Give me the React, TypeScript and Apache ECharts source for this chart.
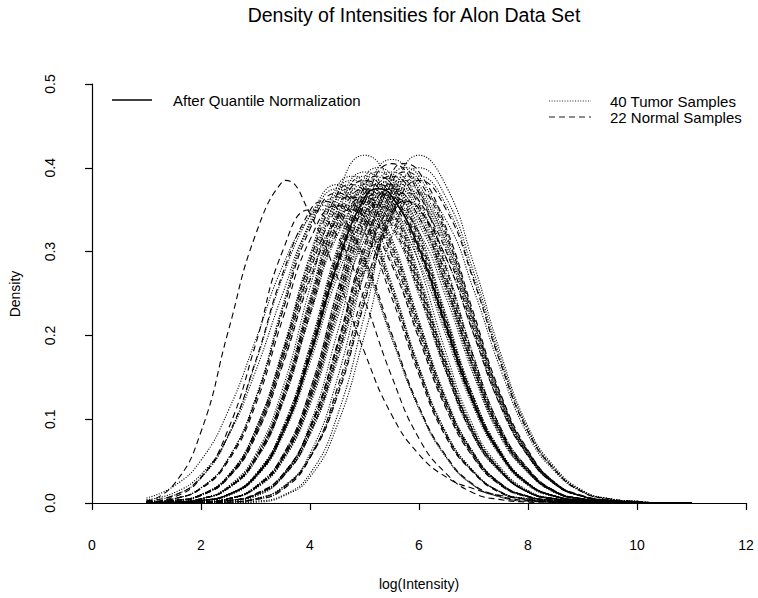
import React, { useEffect, useRef } from "react";
import * as echarts from "echarts";

// x positions (log intensity) at which the densities were read
const xGrid = [1, 1.5, 2, 2.5, 3, 3.5, 4, 4.5, 5, 5.5, 6, 6.5, 7, 7.5, 8, 8.5, 9, 9.5, 10, 10.5, 11];

// 40 tumor samples (dotted)
const tumor01 = [0, 0, 0, 0, 0.002, 0.009, 0.035, 0.104, 0.224, 0.357, 0.415, 0.378, 0.286, 0.178, 0.091, 0.042, 0.015, 0.005, 0.002, 0, 0];
const tumor02 = [0, 0.001, 0.005, 0.02, 0.058, 0.137, 0.257, 0.367, 0.415, 0.378, 0.286, 0.178, 0.091, 0.042, 0.015, 0.005, 0.002, 0, 0, 0];
const tumor03 = [0, 0, 0.001, 0.005, 0.02, 0.057, 0.135, 0.254, 0.363, 0.41, 0.373, 0.283, 0.176, 0.09, 0.041, 0.014, 0.005, 0.002, 0, 0, 0];
const tumor04 = [0, 0, 0.001, 0.003, 0.01, 0.034, 0.09, 0.188, 0.304, 0.388, 0.39, 0.324, 0.224, 0.128, 0.062, 0.024, 0.008, 0.003, 0.001, 0, 0];
const tumor05 = [0, 0.001, 0.003, 0.01, 0.034, 0.09, 0.188, 0.304, 0.388, 0.39, 0.324, 0.224, 0.128, 0.062, 0.024, 0.008, 0.003, 0.001, 0, 0];
const tumor06 = [0, 0.001, 0.005, 0.019, 0.055, 0.129, 0.242, 0.345, 0.39, 0.355, 0.269, 0.168, 0.086, 0.039, 0.014, 0.005, 0.002, 0, 0, 0];
const tumor07 = [0.001, 0.003, 0.01, 0.033, 0.087, 0.181, 0.293, 0.373, 0.375, 0.312, 0.216, 0.123, 0.06, 0.023, 0.008, 0.003, 0.001, 0, 0, 0];
const tumor08 = [0.004, 0.012, 0.034, 0.08, 0.157, 0.25, 0.332, 0.365, 0.332, 0.252, 0.157, 0.08, 0.037, 0.013, 0.004, 0.001, 0, 0, 0, 0];
const tumor09 = [0.006, 0.02, 0.051, 0.11, 0.194, 0.283, 0.342, 0.341, 0.284, 0.196, 0.112, 0.054, 0.021, 0.007, 0.002, 0.001, 0, 0, 0, 0];
const tumor10 = [0, 0, 0.001, 0.005, 0.018, 0.054, 0.127, 0.239, 0.341, 0.385, 0.35, 0.266, 0.166, 0.085, 0.039, 0.013, 0.005, 0.002, 0, 0, 0];
const tumor11 = [0, 0, 0, 0.001, 0.005, 0.019, 0.055, 0.129, 0.242, 0.345, 0.39, 0.355, 0.269, 0.168, 0.086, 0.039, 0.014, 0.005, 0.002, 0, 0];
const tumor12 = [0, 0, 0.001, 0.003, 0.01, 0.032, 0.084, 0.176, 0.285, 0.364, 0.366, 0.304, 0.21, 0.12, 0.058, 0.023, 0.008, 0.003, 0.001, 0, 0];
const tumor13 = [0, 0.001, 0.003, 0.01, 0.033, 0.087, 0.181, 0.293, 0.373, 0.375, 0.312, 0.216, 0.123, 0.06, 0.023, 0.008, 0.003, 0.001, 0, 0];
const tumor14 = [0, 0.001, 0.005, 0.018, 0.052, 0.122, 0.229, 0.327, 0.37, 0.337, 0.255, 0.159, 0.081, 0.037, 0.013, 0.004, 0.001, 0, 0, 0];
const tumor15 = [0.001, 0.003, 0.01, 0.031, 0.083, 0.174, 0.281, 0.359, 0.361, 0.3, 0.207, 0.118, 0.057, 0.022, 0.008, 0.003, 0.001, 0, 0, 0];
const tumor16 = [0, 0, 0.001, 0.005, 0.019, 0.055, 0.13, 0.245, 0.35, 0.395, 0.359, 0.273, 0.17, 0.087, 0.04, 0.014, 0.005, 0.002, 0, 0, 0];
const tumor17 = [0, 0, 0, 0.001, 0.004, 0.017, 0.059, 0.148, 0.277, 0.375, 0.38, 0.316, 0.218, 0.125, 0.06, 0.023, 0.008, 0.003, 0.001, 0, 0];
const tumor18 = [0.001, 0.005, 0.018, 0.053, 0.124, 0.233, 0.332, 0.375, 0.341, 0.259, 0.161, 0.083, 0.038, 0.013, 0.005, 0.002, 0, 0, 0, 0];
const tumor19 = [0, 0.001, 0.003, 0.009, 0.031, 0.082, 0.172, 0.277, 0.354, 0.356, 0.296, 0.204, 0.117, 0.057, 0.022, 0.008, 0.003, 0.001, 0, 0];
const tumor20 = [0, 0, 0, 0, 0.001, 0.008, 0.031, 0.093, 0.2, 0.318, 0.37, 0.337, 0.255, 0.159, 0.081, 0.037, 0.013, 0.004, 0.001, 0, 0];
const tumor21 = [0.001, 0.002, 0.009, 0.03, 0.08, 0.167, 0.27, 0.344, 0.346, 0.288, 0.199, 0.114, 0.055, 0.021, 0.007, 0.002, 0.001, 0, 0, 0];
const tumor22 = [0, 0.001, 0.005, 0.018, 0.053, 0.125, 0.236, 0.336, 0.38, 0.346, 0.262, 0.163, 0.084, 0.038, 0.013, 0.005, 0.002, 0, 0, 0];
const tumor23 = [0, 0, 0.001, 0.005, 0.018, 0.052, 0.122, 0.229, 0.327, 0.37, 0.337, 0.255, 0.159, 0.081, 0.037, 0.013, 0.004, 0.001, 0, 0, 0];
const tumor24 = [0, 0.001, 0.003, 0.01, 0.034, 0.089, 0.186, 0.3, 0.383, 0.385, 0.32, 0.221, 0.126, 0.061, 0.024, 0.008, 0.003, 0.001, 0, 0];
const tumor25 = [0, 0, 0, 0.002, 0.008, 0.032, 0.094, 0.203, 0.323, 0.375, 0.341, 0.259, 0.161, 0.083, 0.038, 0.013, 0.005, 0.002, 0, 0, 0];
const tumor26 = [0, 0, 0.001, 0.005, 0.017, 0.05, 0.117, 0.22, 0.314, 0.355, 0.323, 0.245, 0.153, 0.078, 0.036, 0.012, 0.004, 0.001, 0, 0, 0];
const tumor27 = [0.002, 0.009, 0.03, 0.08, 0.167, 0.27, 0.344, 0.346, 0.288, 0.199, 0.114, 0.055, 0.021, 0.007, 0.002, 0.001, 0, 0, 0, 0];
const tumor28 = [0, 0.001, 0.005, 0.017, 0.05, 0.119, 0.223, 0.319, 0.36, 0.328, 0.248, 0.155, 0.079, 0.036, 0.013, 0.004, 0.001, 0, 0, 0];
const tumor29 = [0, 0, 0.001, 0.003, 0.009, 0.031, 0.081, 0.169, 0.274, 0.349, 0.351, 0.292, 0.202, 0.115, 0.056, 0.022, 0.008, 0.003, 0.001, 0, 0];
const tumor30 = [0.001, 0.003, 0.01, 0.033, 0.088, 0.183, 0.296, 0.378, 0.38, 0.316, 0.218, 0.125, 0.06, 0.023, 0.008, 0.003, 0.001, 0, 0, 0];
const tumor31 = [0, 0, 0.001, 0.003, 0.01, 0.032, 0.086, 0.179, 0.289, 0.369, 0.371, 0.308, 0.213, 0.122, 0.059, 0.023, 0.008, 0.003, 0.001, 0, 0];
const tumor32 = [0.001, 0.005, 0.018, 0.053, 0.125, 0.236, 0.336, 0.38, 0.346, 0.262, 0.163, 0.084, 0.038, 0.013, 0.005, 0.002, 0, 0, 0, 0];
const tumor33 = [0, 0.001, 0.003, 0.01, 0.032, 0.084, 0.176, 0.285, 0.364, 0.366, 0.304, 0.21, 0.12, 0.058, 0.023, 0.008, 0.003, 0.001, 0, 0];
const tumor34 = [0, 0, 0.001, 0.005, 0.018, 0.053, 0.125, 0.236, 0.336, 0.38, 0.346, 0.262, 0.163, 0.084, 0.038, 0.013, 0.005, 0.002, 0, 0, 0];
const tumor35 = [0, 0, 0.001, 0.003, 0.01, 0.033, 0.087, 0.181, 0.293, 0.373, 0.375, 0.312, 0.216, 0.123, 0.06, 0.023, 0.008, 0.003, 0.001, 0, 0];
const tumor36 = [0, 0.001, 0.005, 0.019, 0.055, 0.13, 0.245, 0.35, 0.395, 0.359, 0.273, 0.17, 0.087, 0.04, 0.014, 0.005, 0.002, 0, 0, 0];
const tumor37 = [0.001, 0.003, 0.01, 0.032, 0.084, 0.176, 0.285, 0.364, 0.366, 0.304, 0.21, 0.12, 0.058, 0.023, 0.008, 0.003, 0.001, 0, 0, 0];
const tumor38 = [0, 0, 0, 0.001, 0.005, 0.019, 0.056, 0.132, 0.248, 0.354, 0.4, 0.364, 0.276, 0.172, 0.088, 0.04, 0.014, 0.005, 0.002, 0, 0];
const tumor39 = [0, 0.001, 0.002, 0.009, 0.03, 0.08, 0.167, 0.27, 0.344, 0.346, 0.288, 0.199, 0.114, 0.055, 0.021, 0.007, 0.002, 0.001, 0, 0];
const tumor40 = [0, 0, 0.001, 0.005, 0.018, 0.051, 0.12, 0.226, 0.323, 0.365, 0.332, 0.252, 0.157, 0.08, 0.037, 0.013, 0.004, 0.001, 0, 0, 0];

// peak (x, density) of the tumor curves whose top falls between two grid points
const tumorPeaks = [
  null, null, null, [5.75, 0.4], [5.25, 0.4], null, [4.8, 0.385], null, [4.25, 0.35], null,
  null, [5.7, 0.375], [5.2, 0.385], null, [4.7, 0.37], null, [5.8, 0.39], null, [5.3, 0.365], null,
  [4.75, 0.355], null, null, [5.25, 0.395], null, null, [4.2, 0.355], null, [5.75, 0.36], [4.8, 0.39],
  [5.7, 0.38], null, [5.3, 0.375], null, [5.8, 0.385], null, [4.7, 0.375], null, [5.2, 0.355], null,
];

// 22 normal samples (dashed)
const normal01 = [0.001, 0.022, 0.085, 0.205, 0.32, 0.384, 0.345, 0.27, 0.18, 0.105, 0.058, 0.031, 0.017, 0.009, 0.005, 0.002, 0.001, 0];
const normal02 = [0.001, 0.007, 0.03, 0.088, 0.189, 0.301, 0.35, 0.319, 0.242, 0.151, 0.077, 0.035, 0.012, 0.004, 0.001, 0, 0, 0, 0, 0];
const normal03 = [0.003, 0.009, 0.031, 0.081, 0.169, 0.274, 0.349, 0.351, 0.292, 0.202, 0.115, 0.056, 0.022, 0.008, 0.003, 0.001, 0, 0, 0, 0];
const normal04 = [0.001, 0.005, 0.018, 0.052, 0.122, 0.229, 0.327, 0.37, 0.337, 0.255, 0.159, 0.081, 0.037, 0.013, 0.004, 0.001, 0, 0, 0, 0];
const normal05 = [0.001, 0.003, 0.01, 0.032, 0.086, 0.179, 0.289, 0.369, 0.371, 0.308, 0.213, 0.122, 0.059, 0.023, 0.008, 0.003, 0.001, 0, 0, 0];
const normal06 = [0, 0.001, 0.005, 0.018, 0.053, 0.124, 0.233, 0.332, 0.375, 0.341, 0.259, 0.161, 0.083, 0.038, 0.013, 0.005, 0.002, 0, 0, 0];
const normal07 = [0, 0.001, 0.003, 0.01, 0.033, 0.088, 0.183, 0.296, 0.378, 0.38, 0.316, 0.218, 0.125, 0.06, 0.023, 0.008, 0.003, 0.001, 0, 0];
const normal08 = [0, 0, 0.001, 0.005, 0.019, 0.057, 0.134, 0.251, 0.358, 0.405, 0.369, 0.279, 0.174, 0.089, 0.041, 0.014, 0.005, 0.002, 0, 0, 0];
const normal09 = [0, 0, 0.001, 0.003, 0.01, 0.034, 0.089, 0.186, 0.3, 0.383, 0.385, 0.32, 0.221, 0.126, 0.061, 0.024, 0.008, 0.003, 0.001, 0, 0];
const normal10 = [0, 0, 0, 0.001, 0.005, 0.018, 0.054, 0.127, 0.239, 0.341, 0.385, 0.35, 0.266, 0.166, 0.085, 0.039, 0.013, 0.005, 0.002, 0, 0];
const normal11 = [0, 0.001, 0.003, 0.01, 0.031, 0.083, 0.174, 0.281, 0.359, 0.361, 0.3, 0.207, 0.118, 0.057, 0.022, 0.008, 0.003, 0.001, 0, 0];
const normal12 = [0, 0.001, 0.005, 0.018, 0.054, 0.127, 0.239, 0.341, 0.385, 0.35, 0.266, 0.166, 0.085, 0.039, 0.013, 0.005, 0.002, 0, 0, 0];
const normal13 = [0.001, 0.003, 0.009, 0.031, 0.082, 0.172, 0.277, 0.354, 0.356, 0.296, 0.204, 0.117, 0.057, 0.022, 0.008, 0.003, 0.001, 0, 0, 0];
const normal14 = [0, 0, 0.001, 0.005, 0.018, 0.053, 0.124, 0.233, 0.332, 0.375, 0.341, 0.259, 0.161, 0.083, 0.038, 0.013, 0.005, 0.002, 0, 0, 0];
const normal15 = [0, 0, 0.001, 0.003, 0.01, 0.031, 0.083, 0.174, 0.281, 0.359, 0.361, 0.3, 0.207, 0.118, 0.057, 0.022, 0.008, 0.003, 0.001, 0, 0];
const normal16 = [0.001, 0.005, 0.017, 0.05, 0.117, 0.22, 0.314, 0.355, 0.323, 0.245, 0.153, 0.078, 0.036, 0.012, 0.004, 0.001, 0, 0, 0, 0];
const normal17 = [0, 0.001, 0.003, 0.01, 0.032, 0.086, 0.179, 0.289, 0.369, 0.371, 0.308, 0.213, 0.122, 0.059, 0.023, 0.008, 0.003, 0.001, 0, 0];
const normal18 = [0, 0.001, 0.005, 0.018, 0.051, 0.12, 0.226, 0.323, 0.365, 0.332, 0.252, 0.157, 0.08, 0.037, 0.013, 0.004, 0.001, 0, 0, 0];
const normal19 = [0, 0, 0.001, 0.005, 0.019, 0.055, 0.129, 0.242, 0.345, 0.39, 0.355, 0.269, 0.168, 0.086, 0.039, 0.014, 0.005, 0.002, 0, 0, 0];
const normal20 = [0.001, 0.002, 0.009, 0.03, 0.079, 0.165, 0.266, 0.34, 0.341, 0.284, 0.196, 0.112, 0.054, 0.021, 0.007, 0.002, 0.001, 0, 0, 0];
const normal21 = [0, 0, 0.001, 0.003, 0.011, 0.034, 0.091, 0.19, 0.308, 0.393, 0.395, 0.328, 0.227, 0.13, 0.063, 0.024, 0.009, 0.003, 0.001, 0, 0];
const normal22 = [0, 0, 0, 0.001, 0.004, 0.016, 0.054, 0.137, 0.256, 0.346, 0.351, 0.292, 0.202, 0.115, 0.056, 0.022, 0.008, 0.003, 0.001, 0, 0];

const normalPeaks = [
  [3.55, 0.385], null, [4.25, 0.36], null, [4.75, 0.38], null, [5.2, 0.39], null, [5.75, 0.395], null, [5.3, 0.37],
  null, [4.7, 0.365], null, [5.8, 0.37], null, [5.25, 0.38], null, null, [4.8, 0.35], [5.7, 0.405], [5.75, 0.36],
];

// density after quantile normalization (solid)
const quantileNormalized = [0, 0.001, 0.003, 0.01, 0.032, 0.084, 0.176, 0.285, 0.364, 0.366, 0.304, 0.21, 0.12, 0.058, 0.023, 0.008, 0.003, 0.001, 0, 0];
const quantilePeak = [5.25, 0.375];

const tumorCurves = [
  tumor01, tumor02, tumor03, tumor04, tumor05, tumor06, tumor07, tumor08, tumor09, tumor10,
  tumor11, tumor12, tumor13, tumor14, tumor15, tumor16, tumor17, tumor18, tumor19, tumor20,
  tumor21, tumor22, tumor23, tumor24, tumor25, tumor26, tumor27, tumor28, tumor29, tumor30,
  tumor31, tumor32, tumor33, tumor34, tumor35, tumor36, tumor37, tumor38, tumor39, tumor40,
];
const normalCurves = [
  normal01, normal02, normal03, normal04, normal05, normal06, normal07, normal08, normal09, normal10, normal11,
  normal12, normal13, normal14, normal15, normal16, normal17, normal18, normal19, normal20, normal21, normal22,
];

const titleText = "Density of Intensities for Alon Data Set";
const xAxisName = "log(Intensity)";
const yAxisName = "Density";
const legendQuantile = "After Quantile Normalization";
const legendTumor = "40 Tumor Samples";
const legendNormal = "22 Normal Samples";

const FONT = "'Liberation Sans', Arial, Helvetica, sans-serif";
const DOTTED = [1.1, 1.5];
const DASHED = [6, 4];

const toPairs = (arr: number[], peak: number[] | null) => {
  const pts = arr.map((v, j) => [xGrid[j], v]);
  if (peak) {
    pts.push([peak[0], peak[1]]);
    pts.sort((a, b) => a[0] - b[0]);
  }
  return pts;
};

export default function App() {
  const ref = useRef<HTMLDivElement>(null);

  useEffect(() => {
    if (!ref.current) return;
    const chart = echarts.init(ref.current, undefined, { renderer: "svg" });

    const lineSeries = (arr: number[], peak: number[] | null, dash: any, width: number) => ({
      type: "line",
      data: toPairs(arr, peak),
      smooth: 0.5,
      symbol: "none",
      silent: true,
      lineStyle: { color: "#000", width, type: dash },
    });

    const series: any[] = [
      ...tumorCurves.map((a, i) => lineSeries(a, tumorPeaks[i] as any, DOTTED, 1.1)),
      ...normalCurves.map((a, i) => lineSeries(a, normalPeaks[i] as any, DASHED, 1.1)),
      lineSeries(quantileNormalized, quantilePeak, "solid", 1.5),
    ];

    const axisCommon = {
      axisLine: { show: true, lineStyle: { color: "#000", width: 1.2 } },
      axisTick: { show: true, length: 7, lineStyle: { color: "#000", width: 1.2 } },
      splitLine: { show: false },
    };

    chart.setOption({
      animation: false,
      backgroundColor: "#fff",
      grid: { left: 92, right: 12, top: 84, bottom: 95, containLabel: false },
      xAxis: {
        type: "value",
        min: 0,
        max: 12,
        interval: 2,
        offset: 15,
        ...axisCommon,
        axisLabel: { color: "#000", fontSize: 14, fontFamily: FONT, margin: 20 },
      },
      yAxis: {
        type: "value",
        min: 0,
        max: 0.5,
        interval: 0.1,
        offset: 15,
        ...axisCommon,
        axisLabel: {
          color: "#000",
          fontSize: 14,
          fontFamily: FONT,
          rotate: 90,
          margin: 20,
          formatter: (v: number) => v.toFixed(1),
        },
      },
      graphic: [
        {
          type: "text",
          x: 414,
          y: 15,
          style: { text: titleText, fontSize: 19.5, fontFamily: FONT, fill: "#000", align: "center", verticalAlign: "middle" },
        },
        {
          type: "text",
          x: 419,
          y: 584,
          style: { text: xAxisName, fontSize: 14, fontFamily: FONT, fill: "#000", align: "center", verticalAlign: "middle" },
        },
        {
          type: "text",
          x: 15,
          y: 294,
          rotation: Math.PI / 2,
          style: { text: yAxisName, fontSize: 14, fontFamily: FONT, fill: "#000", align: "center", verticalAlign: "middle" },
        },
        {
          type: "line",
          shape: { x1: 112, y1: 100, x2: 152, y2: 100 },
          style: { stroke: "#000", lineWidth: 1.6 },
        },
        {
          type: "text",
          x: 173,
          y: 100,
          style: { text: legendQuantile, fontSize: 15, fontFamily: FONT, fill: "#000", align: "left", verticalAlign: "middle" },
        },
        {
          type: "line",
          shape: { x1: 549, y1: 101, x2: 591, y2: 101 },
          style: { stroke: "#000", lineWidth: 0.8, lineDash: DOTTED },
        },
        {
          type: "text",
          x: 610,
          y: 101,
          style: { text: legendTumor, fontSize: 15, fontFamily: FONT, fill: "#000", align: "left", verticalAlign: "middle" },
        },
        {
          type: "line",
          shape: { x1: 549, y1: 117, x2: 591, y2: 117 },
          style: { stroke: "#000", lineWidth: 0.9, lineDash: DASHED },
        },
        {
          type: "text",
          x: 610,
          y: 117,
          style: { text: legendNormal, fontSize: 15, fontFamily: FONT, fill: "#000", align: "left", verticalAlign: "middle" },
        },
      ],
      series,
    });

    return () => chart.dispose();
  }, []);

  return (
    <div
      ref={ref}
      style={{ position: "fixed", left: 0, top: 0, width: 758, height: 598, background: "#fff" }}
    />
  );
}
